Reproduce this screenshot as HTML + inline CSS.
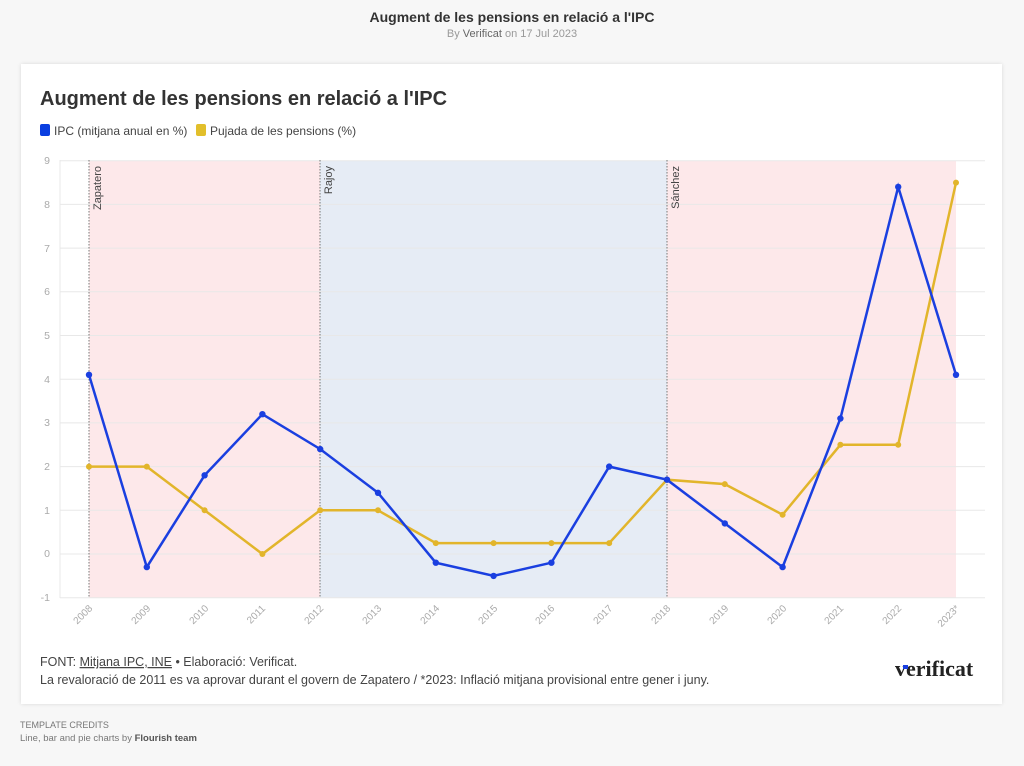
<!DOCTYPE html><html><head><meta charset="utf-8"><style>
body{margin:0;width:1024px;height:766px;background:#f7f7f7;font-family:"Liberation Sans",sans-serif;overflow:hidden;position:relative}
.card{position:absolute;left:21px;top:64px;width:981px;height:640px;background:#fff;box-shadow:0 0 4px rgba(0,0,0,.12)}
</style></head><body>
<div style="position:absolute;top:9px;width:100%;text-align:center;font-weight:bold;font-size:14px;color:#333">Augment de les pensions en relació a l'IPC</div>
<div style="position:absolute;top:28px;width:100%;text-align:center;font-size:11px;color:#999">By <span style="color:#666">Verificat</span> on 17 Jul 2023</div>
<div class="card"></div>
<svg width="1024" height="766" style="position:absolute;left:0;top:0" font-family="Liberation Sans, sans-serif">
<text x="40" y="105" font-size="20" font-weight="bold" fill="#333">Augment de les pensions en relació a l'IPC</text>
<rect x="40" y="124" width="10" height="12" rx="2" fill="#0a3fe0"/><text x="54" y="135" font-size="12" fill="#444">IPC (mitjana anual en %)</text>
<rect x="196" y="124" width="10" height="12" rx="2" fill="#e2bf2b"/><text x="210" y="135" font-size="12" fill="#444">Pujada de les pensions (%)</text>
<rect x="89" y="160.7" width="231" height="437" fill="#fde8ea"/>
<rect x="320" y="160.7" width="347" height="437" fill="#e6ecf5"/>
<rect x="667" y="160.7" width="289" height="437" fill="#fde8ea"/>
<g stroke="#e8e8e8" stroke-width="1">
<line x1="60" x2="985" y1="160.7" y2="160.7"/><line x1="60" x2="985" y1="204.4" y2="204.4"/><line x1="60" x2="985" y1="248.1" y2="248.1"/><line x1="60" x2="985" y1="291.8" y2="291.8"/><line x1="60" x2="985" y1="335.5" y2="335.5"/><line x1="60" x2="985" y1="379.2" y2="379.2"/><line x1="60" x2="985" y1="422.9" y2="422.9"/><line x1="60" x2="985" y1="466.6" y2="466.6"/><line x1="60" x2="985" y1="510.3" y2="510.3"/><line x1="60" x2="985" y1="554" y2="554"/><line x1="60" x2="985" y1="597.7" y2="597.7"/><line x1="60" x2="60" y1="160" y2="598"/>
</g>
<g font-size="10.5" fill="#aaa" text-anchor="end">
<text x="50" y="164">9</text><text x="50" y="208">8</text><text x="50" y="252">7</text><text x="50" y="295">6</text><text x="50" y="339">5</text><text x="50" y="383">4</text><text x="50" y="426">3</text><text x="50" y="470">2</text><text x="50" y="514">1</text><text x="50" y="557">0</text><text x="50" y="601">-1</text>
</g>
<g stroke="#777" stroke-dasharray="1.5,1.5"><line x1="89" x2="89" y1="160" y2="598"/><line x1="320" x2="320" y1="160" y2="598"/><line x1="667" x2="667" y1="160" y2="598"/></g>
<g font-size="11" fill="#444"><text transform="translate(101,166) rotate(-90)" text-anchor="end">Zapatero</text><text transform="translate(332,166) rotate(-90)" text-anchor="end">Rajoy</text><text transform="translate(679,166) rotate(-90)" text-anchor="end">Sánchez</text></g>
<polyline fill="none" stroke="#e2b52b" stroke-width="2.5" points="89,466.6 146.8,466.6 204.6,510.3 262.4,554 320.2,510.3 378,510.3 435.8,543.1 493.6,543.1 551.4,543.1 609.2,543.1 667,479.7 724.8,484.1 782.6,514.7 840.4,444.8 898.2,444.8 956,182.6"/>
<polyline fill="none" stroke="#1a3fe0" stroke-width="2.5" points="89,374.8 146.8,567.1 204.6,475.3 262.4,414.2 320.2,449.1 378,492.8 435.8,562.7 493.6,575.9 551.4,562.7 609.2,466.6 667,479.7 724.8,523.4 782.6,567.1 840.4,418.5 898.2,186.9 956,374.8"/>
<g fill="#e2b52b"><circle cx="89" cy="466.6" r="3"/><circle cx="146.8" cy="466.6" r="3"/><circle cx="204.6" cy="510.3" r="3"/><circle cx="262.4" cy="554" r="3"/><circle cx="320.2" cy="510.3" r="3"/><circle cx="378" cy="510.3" r="3"/><circle cx="435.8" cy="543.1" r="3"/><circle cx="493.6" cy="543.1" r="3"/><circle cx="551.4" cy="543.1" r="3"/><circle cx="609.2" cy="543.1" r="3"/><circle cx="667" cy="479.7" r="3"/><circle cx="724.8" cy="484.1" r="3"/><circle cx="782.6" cy="514.7" r="3"/><circle cx="840.4" cy="444.8" r="3"/><circle cx="898.2" cy="444.8" r="3"/><circle cx="956" cy="182.6" r="3"/></g>
<g fill="#1a3fe0"><circle cx="89" cy="374.8" r="3.2"/><circle cx="146.8" cy="567.1" r="3.2"/><circle cx="204.6" cy="475.3" r="3.2"/><circle cx="262.4" cy="414.2" r="3.2"/><circle cx="320.2" cy="449.1" r="3.2"/><circle cx="378" cy="492.8" r="3.2"/><circle cx="435.8" cy="562.7" r="3.2"/><circle cx="493.6" cy="575.9" r="3.2"/><circle cx="551.4" cy="562.7" r="3.2"/><circle cx="609.2" cy="466.6" r="3.2"/><circle cx="667" cy="479.7" r="3.2"/><circle cx="724.8" cy="523.4" r="3.2"/><circle cx="782.6" cy="567.1" r="3.2"/><circle cx="840.4" cy="418.5" r="3.2"/><circle cx="898.2" cy="186.9" r="3.2"/><circle cx="956" cy="374.8" r="3.2"/></g>
<g font-size="10" fill="#aaa" text-anchor="end">
<text transform="translate(93,609) rotate(-45)">2008</text><text transform="translate(151,609) rotate(-45)">2009</text><text transform="translate(209,609) rotate(-45)">2010</text><text transform="translate(266,609) rotate(-45)">2011</text><text transform="translate(324,609) rotate(-45)">2012</text><text transform="translate(382,609) rotate(-45)">2013</text><text transform="translate(440,609) rotate(-45)">2014</text><text transform="translate(498,609) rotate(-45)">2015</text><text transform="translate(555,609) rotate(-45)">2016</text><text transform="translate(613,609) rotate(-45)">2017</text><text transform="translate(671,609) rotate(-45)">2018</text><text transform="translate(729,609) rotate(-45)">2019</text><text transform="translate(787,609) rotate(-45)">2020</text><text transform="translate(844,609) rotate(-45)">2021</text><text transform="translate(902,609) rotate(-45)">2022</text><text transform="translate(960,609) rotate(-45)">2023*</text>
</g>
<g font-size="12.5" fill="#444"><text x="40" y="666">FONT: <tspan text-decoration="underline">Mitjana IPC, INE</tspan> • Elaboració: Verificat.</text><text x="40" y="684">La revaloració de 2011 es va aprovar durant el govern de Zapatero / *2023: Inflació mitjana provisional entre gener i juny.</text></g>
<text x="895" y="676" font-family="Liberation Serif, serif" font-size="22" font-weight="bold" fill="#222">verificat</text>
<rect x="903" y="665" width="5" height="4" fill="#1a3fe0"/>
<text x="20" y="728" font-size="9" fill="#777">TEMPLATE CREDITS</text>
<text x="20" y="741" font-size="9.5" fill="#777">Line, bar and pie charts by <tspan font-weight="bold" fill="#555">Flourish team</tspan></text>
</svg>
</body></html>
